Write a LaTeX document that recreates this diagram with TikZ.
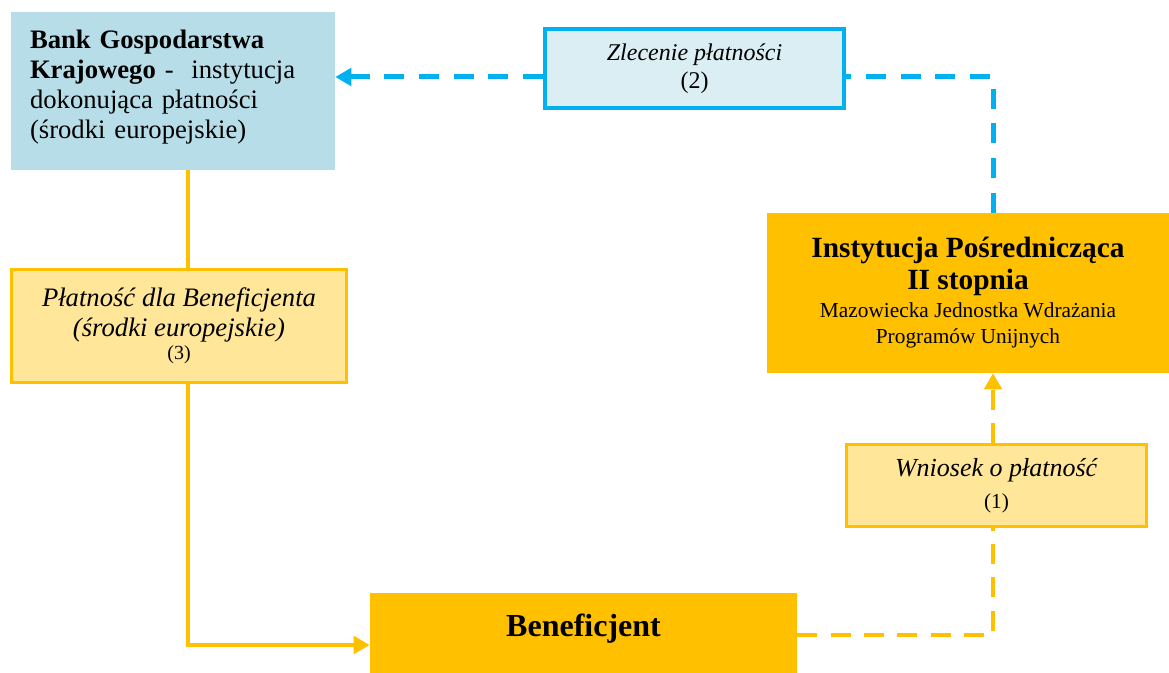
\documentclass[tikz,border=0pt]{standalone}
\usepackage{fontspec}
\setmainfont{Liberation Serif}
\usetikzlibrary{arrows.meta}
\definecolor{bankblue}{HTML}{B7DDE8}
\definecolor{orderblue}{HTML}{DAEEF3}
\definecolor{lineblue}{HTML}{00B0F0}
\definecolor{gold}{HTML}{FFC000}
\definecolor{lightgold}{HTML}{FFE699}
\begin{document}
\begin{tikzpicture}[x=0.75pt,y=0.75pt,yscale=-1,xscale=1,
  box/.style={inner sep=0pt,align=center},
  goldbox/.style={box,fill=gold},
  notebox/.style={box,fill=lightgold,draw=gold,line width=2.25pt},
  goldline/.style={draw=gold,line width=3pt},
  golddash/.style={goldline,dash pattern=on 15pt off 10pt},
  bluedash/.style={draw=lineblue,line width=3.75pt,dash pattern=on 15pt off 11pt},
  tip/.style={-{Triangle[length=12pt,width=13pt]}},
]
  \useasboundingbox (0,0) rectangle (1169,673);
  % boxes
  \node[box,fill=bankblue,minimum width=243pt,minimum height=118.5pt,text width=214.5pt,align=left,text depth=77pt,
    font=\fontsize{20}{22.5}\selectfont] (bank) at (173,91)
    {\textbf{Bank Gospodarstwa}\\\textbf{Krajowego} -~ instytucja\\dokonująca płatności\\(środki europejskie)};
  \node[box,fill=orderblue,draw=lineblue,line width=3pt,minimum width=224.25pt,minimum height=59.25pt,
    font=\fontsize{18}{21}\selectfont] (order) at (694.5,68.5)
    {\textit{Zlecenie płatności}\\(2)};
  \node[notebox,minimum width=251.25pt,minimum height=84.75pt,font=\fontsize{20}{22.5}\selectfont] (payment) at (179,326)
    {\textit{Płatność dla Beneficjenta}\\\textit{(środki europejskie)}\\[-5pt]{\fontsize{15}{18}\selectfont (3)}};
  \node[goldbox,minimum width=301.5pt,minimum height=120pt,font=\fontsize{22}{24}\selectfont] (ip) at (968,293)
    {\textbf{Instytucja Pośrednicząca}\\\textbf{II stopnia}\\[-3pt]{\fontsize{16}{19.5}\selectfont Mazowiecka Jednostka Wdrażania}\\[-4.5pt]{\fontsize{16}{19.5}\selectfont Programów Unijnych}};
  \node[notebox,minimum width=225pt,minimum height=61.5pt,font=\fontsize{19.5}{24}\selectfont] (request) at (996.5,485.5)
    {\textit{Wniosek o płatność}\\{\fontsize{16}{19}\selectfont (1)}};
  \node[goldbox,minimum width=320.25pt,minimum height=60pt,text depth=11pt,font=\fontsize{24}{28}\selectfont\bfseries] (benef) at (583.5,633)
    {Beneficjent};
  % connectors
  \coordinate (bluecorner) at (993,77);
  \coordinate (leftcorner) at (188,645);
  \coordinate (rightcorner) at (993,635);
  \draw[bluedash] (ip.north -| bluecorner) -- (bluecorner) -- (bluecorner -| order.east);
  \draw[bluedash,tip] (order.west |- bluecorner) -- (bank.east |- bluecorner);
  \draw[goldline] (bank.south -| leftcorner) -- (payment.north -| leftcorner);
  \draw[goldline,tip] (payment.south -| leftcorner) -- (leftcorner) -- (benef.west |- leftcorner);
  \draw[golddash] (benef.east |- rightcorner) -- (rightcorner) -- (request.south -| rightcorner);
  \draw[golddash,tip] (request.north -| rightcorner) -- (ip.south -| rightcorner);
\end{tikzpicture}
\end{document}
